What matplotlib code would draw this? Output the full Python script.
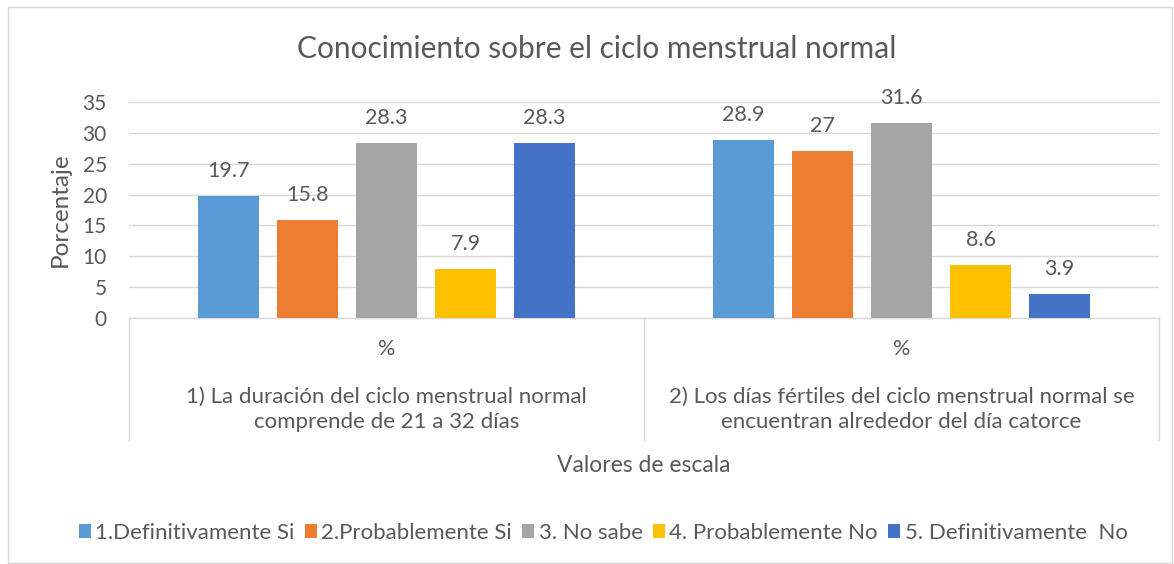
import matplotlib.pyplot as plt
import matplotlib.patches as mpatches
import matplotlib.transforms as mtransforms
import numpy as np

plt.rcParams["font.family"] = ["Lato", "DejaVu Sans"]

# Data
categories = [
    "1) La duración del ciclo menstrual normal\ncomprende de 21 a 32 días",
    "2) Los días fértiles del ciclo menstrual normal se\nencuentran alrededor del día catorce",
]
sub_label = "%"
series = [
    "1.Definitivamente Si",
    "2.Probablemente Si",
    "3. No sabe",
    "4. Probablemente No",
    "5. Definitivamente  No",
]
values = [
    [19.7, 28.9],
    [15.8, 27],
    [28.3, 31.6],
    [7.9, 8.6],
    [28.3, 3.9],
]
colors = ["#5B9BD5", "#ED7D31", "#A5A5A5", "#FFC000", "#4472C4"]
yticks = [0, 5, 10, 15, 20, 25, 30, 35]

text_color = "#595959"
line_color = "#D9D9D9"

W, H = 1174, 564
fig = plt.figure(figsize=(W / 100, H / 100), dpi=100)

# outer chart border
fig.patches.append(
    mpatches.Rectangle(
        (8 / W, 1 / H), (1172 - 8) / W, (556) / H,
        transform=fig.transFigure, fill=False, edgecolor=line_color, linewidth=1,
    )
)

ax = fig.add_axes([129 / W, (H - 318) / H, (1159 - 129) / W, (318 - 102) / H])

x = np.arange(len(categories))
width = 0.12
step = 0.1534
for i, (name, vals) in enumerate(zip(series, values)):
    pos = x + (i - 2) * step
    bars = ax.bar(pos, vals, width, color=colors[i], label=name, zorder=3)
    for b, v in zip(bars, vals):
        ax.annotate(
            f"{v:g}", (b.get_x() + b.get_width() / 2, v),
            xytext=(0, 18), textcoords="offset points",
            ha="center", va="center", fontsize=15.5, color=text_color,
        )

ax.set_xlim(-0.5, 1.5)
ax.set_ylim(0, 35)
ax.set_yticks(yticks)
ax.tick_params(axis="y", length=0, pad=16, labelsize=15, labelcolor=text_color)
ax.set_xticks([])
ax.grid(axis="y", color=line_color, linewidth=1, zorder=0)
for s in ["top", "right", "left"]:
    ax.spines[s].set_visible(False)
ax.spines["bottom"].set_color(line_color)
ax.spines["bottom"].set_linewidth(1)

# multi-level category axis
trans = mtransforms.blended_transform_factory(ax.transData, ax.transAxes)
for xv in [-0.5, 0.5, 1.5]:
    ax.plot([xv, xv], [0, -0.565], transform=trans, color=line_color,
            linewidth=1, clip_on=False)
for xv, cat in zip(x, categories):
    ax.text(xv, -0.1435, sub_label, transform=trans, ha="center", va="center",
            fontsize=15.5, color=text_color)
    ax.text(xv, -0.424, cat, transform=trans, ha="center", va="center",
            fontsize=16, color=text_color, linespacing=1.35)

ax.text(0.5, -0.681, "Valores de escala", transform=ax.transAxes,
        ha="center", va="center", fontsize=16.5, color=text_color)
fig.text(60 / W, 1 - 210 / H, "Porcentaje", rotation=90, ha="center",
         va="center", fontsize=17.5, color=text_color)
fig.text(597 / W, 1 - 49 / H, "Conocimiento sobre el ciclo menstrual normal",
         ha="center", va="center", fontsize=21.5, color=text_color)

fig.legend(
    loc="center", bbox_to_anchor=(603 / W, 1 - 533 / H), ncol=5, frameon=False,
    fontsize=16, labelcolor=text_color, handlelength=0.55, handleheight=0.55,
    handletextpad=0.2, columnspacing=0.45,
)

fig.savefig("out.png", dpi=100)
